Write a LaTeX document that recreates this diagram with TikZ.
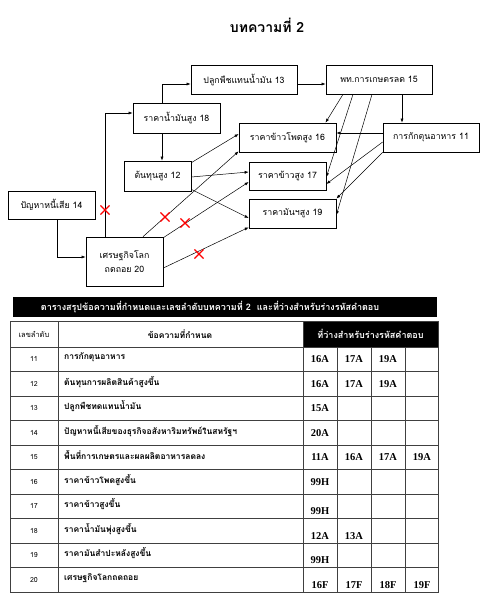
\documentclass[tikz,border=0pt]{standalone}
\usepackage{fontspec}
\setmainfont{Liberation Serif}
\newfontfamily\thai[Script=Thai]{Loma}
\usetikzlibrary{arrows.meta,shapes.misc}
\tikzset{
  box/.style={draw, line width=0.7pt, fill=white, inner sep=0pt, align=center,
    font=\thai\fontsize{8.8}{14}\selectfont},
  link/.style={-{Latex[length=4pt,width=3pt]}, line width=0.5pt},
  miss/.style={cross out, draw=red, line width=1.1pt, minimum size=8pt, inner sep=0pt},
  cell/.style={font=\thai\fontsize{8.5}{9}\selectfont, inner sep=0pt},
  code/.style={font=\bfseries\fontsize{10.5}{12}\selectfont, inner sep=0pt}
}

\begin{document}
\begin{tikzpicture}[x=1pt,y=-1pt]
\useasboundingbox (0,0) rectangle (484,600);
\node[font=\thai\bfseries\fontsize{14}{16}\selectfont] (title) at (267,25) {บทความที่ 2};

\node[box, minimum width=106pt, minimum height=29pt] (n13) at (244,79.5) {ปลูกพืชแทนน้ำมัน 13};
\node[box, minimum width=106pt, minimum height=29pt] (n15) at (379,79.5) {พท.การเกษตรลด 15};
\node[box, minimum width=87pt, minimum height=30pt] (n18) at (176.5,118) {ราคาน้ำมันสูง 18};
\node[box, minimum width=97pt, minimum height=29pt] (n16) at (287.5,137.5) {ราคาข้าวโพดสูง 16};
\node[box, minimum width=96pt, minimum height=29pt] (n11) at (431,137.5) {การกักตุนอาหาร 11};
\node[box, minimum width=67pt, minimum height=30pt] (n12) at (157.5,176) {ต้นทุนสูง 12};
\node[box, minimum width=77pt, minimum height=28pt] (n17) at (287.5,176) {ราคาข้าวสูง 17};
\node[box, minimum width=87pt, minimum height=29pt] (n19) at (292.5,213.5) {ราคามันฯสูง 19};
\node[box, minimum width=87pt, minimum height=28pt] (n14) at (51.5,205) {ปัญหาหนี้เสีย 14};
\node[box, minimum width=77pt, minimum height=49pt] (n20) at (124.5,261.5) {เศรษฐกิจโลก\\ถดถอย 20};

\draw[link] ([xshift=-14.5pt]n18.north) |- ([yshift=-4.5pt]n13.west);
\draw[link] ([yshift=-4.5pt]n13.east) -- ([yshift=-4.5pt]n15.west);
\draw[link] ([xshift=-19.5pt]n20.north) |- ([yshift=5pt]n18.west);
\draw[link] ([xshift=-14.5pt]n18.south) -- ([xshift=4.5pt]n12.north);
\draw[link] ([xshift=5.5pt]n14.south) |- ([yshift=4.5pt]n20.west);
\draw[link] ([yshift=-2pt]n12.north east) -- ([yshift=3.5pt]n16.west);
\draw[link] ([yshift=-1pt]n12.east) -- ([yshift=4pt]n17.west);
\draw[link] ([yshift=2pt]n12.south east) -- ([yshift=-4.5pt]n19.west);
\draw[link] ([xshift=18.5pt]n20.north) -- ([yshift=1pt]n16.south west);
\draw[link] ([yshift=-1pt]n20.north east) -- ([yshift=-6pt]n17.west);
\draw[link] ([yshift=-6.5pt]n20.east) -- ([yshift=1pt]n19.south west);
\draw[link] ([xshift=-36pt]n15.south) -- ([xshift=38pt]n16.north);
\draw[link] ([xshift=-26pt]n15.south) -- ([yshift=-1pt]n17.east);
\draw[link] ([xshift=-7pt]n15.south) -- ([yshift=-1.5pt]n19.east);
\draw[link] ([xshift=23pt]n15.south) -- ([xshift=-29pt]n11.north);
\draw[link] ([yshift=4.5pt]n11.west) -- ([yshift=4.5pt]n16.east);
\draw[link] ([yshift=-4.5pt]n11.west) -- ([yshift=-8pt]n17.east);
\draw[link] (n11.south west) -- (n19.north east);

\node[miss] (x18) at (105,210) {};
\node[miss] (x16) at (165,217) {};
\node[miss] (x17) at (185,223) {};
\node[miss] (x19) at (199,254) {};

\fill (13,297) rectangle (437,317);
\node[font=\thai\bfseries\fontsize{9}{10}\selectfont, text=white] (tabtitle) at (210,307)
  {ตารางสรุปข้อความที่กำหนดและเลขลำดับบทความที่ 2 \ และที่ว่างสำหรับร่างรหัสคำตอบ};
\fill (303,321) rectangle (438,347);
\draw[line width=0.6pt, black!75] (10,321) rectangle (438,592);
\foreach \k in {0,...,9}
  \draw[line width=0.6pt, black!75] (10,{347+24.5*\k}) -- (438,{347+24.5*\k});
\draw[line width=0.6pt, black!75] (58,321) -- (58,592) (303,321) -- (303,592);
\foreach \x in {337,371,405}
  \draw[line width=0.6pt, black!75] (\x,347) -- (\x,592);
\node[cell, font=\thai\fontsize{7.5}{9}\selectfont] (hnum) at (34,334) {เลขลำดับ};
\node[cell, font=\thai\bfseries\fontsize{8.5}{9}\selectfont] (htxt) at (180,334) {ข้อความที่กำหนด};
\node[cell, font=\thai\bfseries\fontsize{9}{10}\selectfont, text=white] (hcode) at (370.5,334) {ที่ว่างสำหรับร่างรหัสคำตอบ};

\foreach \num/\txt/\codes/\low [count=\i from 0] in {
  11/การกักตุนอาหาร/{16A,17A,19A}/0,
  12/ต้นทุนการผลิตสินค้าสูงขึ้น/{16A,17A,19A}/0,
  13/ปลูกพืชทดแทนน้ำมัน/{15A}/0,
  14/ปัญหาหนี้เสียของธุรกิจอสังหาริมทรัพย์ในสหรัฐฯ/{20A}/0,
  15/พื้นที่การเกษตรและผลผลิตอาหารลดลง/{11A,16A,17A,19A}/0,
  16/ราคาข้าวโพดสูงขึ้น/{99H}/0,
  17/ราคาข้าวสูงขึ้น/{99H}/5,
  18/ราคาน้ำมันพุ่งสูงขึ้น/{12A,13A}/5,
  19/ราคามันสำปะหลังสูงขึ้น/{99H}/5,
  20/เศรษฐกิจโลกถดถอย/{16F,17F,18F,19F}/5}
{
  \pgfmathsetmacro\yc{359.25+24.5*\i}
  \node[cell, font=\thai\fontsize{7}{8}\selectfont] (num\num) at (34,\yc) {\num};
  \node[cell, font=\thai\bfseries\fontsize{8.5}{9}\selectfont, anchor=west] (txt\num) at (64,\yc-2) {\txt};
  \foreach \c [count=\j from 0] in \codes
    \node[code] at ({320+34*\j},{\yc+\low}) {\c};
}
\end{tikzpicture}
\end{document}
